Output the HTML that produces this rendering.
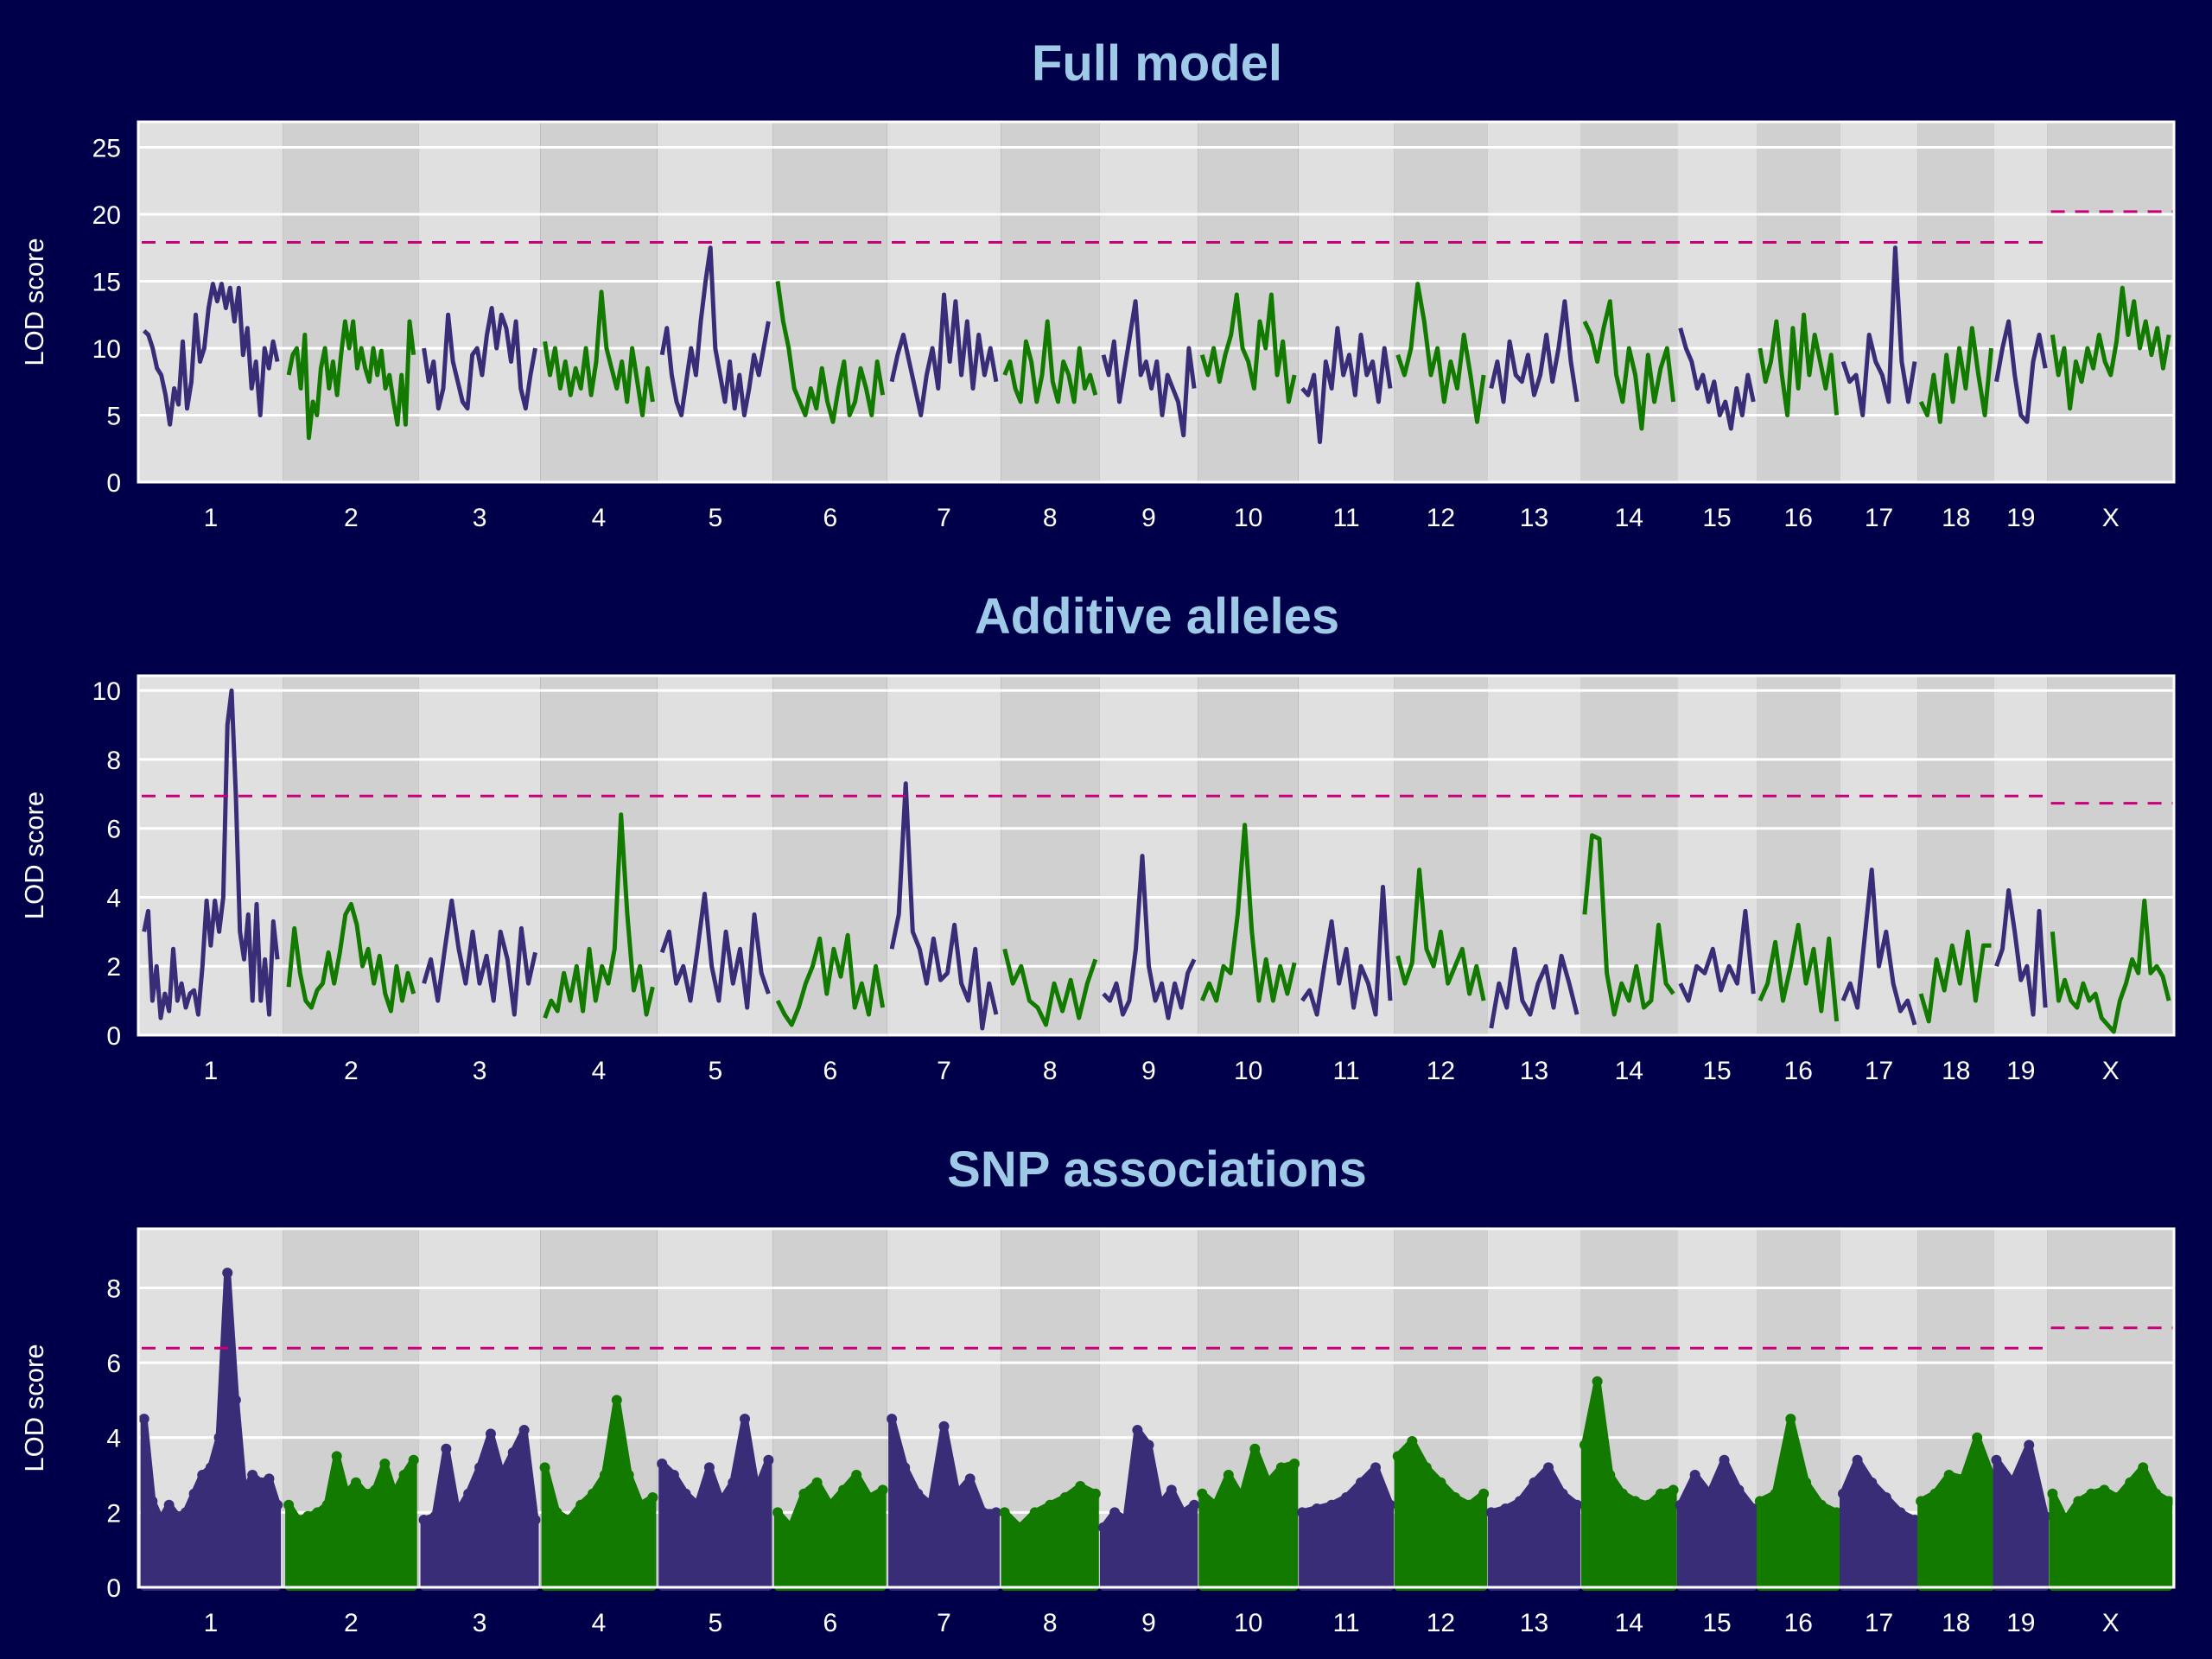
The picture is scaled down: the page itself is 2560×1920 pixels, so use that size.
<!DOCTYPE html>
<html><head><meta charset="utf-8">
<style>
html,body{margin:0;padding:0;background:#00004a;}
svg{display:block;}
text{font-family:"Liberation Sans",Arial,sans-serif;}
</style></head>
<body>
<svg id="chart" width="2560" height="1920" viewBox="0 0 2560 1920" xmlns="http://www.w3.org/2000/svg">
<rect x="0" y="0" width="2560" height="1920" fill="#00004a"/>
</svg>
<script>
const chrNames = ["1","2","3","4","5","6","7","8","9","10","11","12","13","14","15","16","17","18","19","X"];
const chrLen = [188,176,157,152,150,148,147,128,128,130,124,121,121,125,103,108,101,99,69,164];

const fullLod = [
 [11.3,11,10,8.5,8,6.5,4.3,7,5.8,10.5,5.5,7.5,12.5,9,10,13,14.8,13.5,14.8,13,14.5,12,14.5,9.5,11.5,7,9,5,10,8.5,10.5,9],
 [8,9.5,10,7,11,3.3,6,5,8.5,10,7,9,6.5,9.5,12,10,12,8.5,10,8.5,7.5,10,8,9.8,7,8,6,4.3,8,4.3,12,9.5],
 [10,7.5,9,5.5,7,12.5,9,7.5,6,5.5,9.5,10,8,11,13,10,12.5,11.5,9,12,7,5.5,8,10],
 [10.5,8,10,7,9,6.5,8.5,7,10,6.5,9,14.2,10,8.5,7,9,6,10,7.5,5,8.5,6],
 [9.5,11.5,8,6,5,7.5,10,8,12,15,17.5,10,8,6,9,5.5,8,5,7,9.5,8,10,12],
 [15,12,10,7,6,5,7,5.5,8.5,6,4.5,7,9,5,6,8.5,7,5,9,6.5],
 [7.5,9.5,11,9,7,5,8,10,7,14,9,13.5,8,12,7,11,8,10,7.5],
 [8,9,7,6,10.5,9,6,8,12,7.5,6,9,8,6,10,7,8,6.5],
 [9.5,8,10.5,6,8.5,11,13.5,8,9,7,9,5,8,7,6,3.5,10,7],
 [9.5,8,10,7.5,9.5,11,14,10,9,7,12,10,14,8,10.5,6,8],
 [7,6.5,8,3,9,7,11.5,8,9.5,6.5,11,8,9,6,10,7],
 [9.5,8,10,14.8,12,8,10,6,9,7,11,8,4.5,8],
 [7,9,6,10.5,8,7.5,9.5,6.5,8,11,7.5,10,13.5,9,6],
 [12,11,9,11.5,13.5,8,6,10,8,4,9.5,6,8.5,10,6],
 [11.5,10,9,7,8,6,7.5,5,6,4,7,5,8,6],
 [10,7.5,9,12,8,5,11.5,7,12.5,8,11,9,7,9.5,5],
 [9,7.5,8,5,11,9,8,6,17.5,9,6,9],
 [6,5,8,4.5,9.5,6,10,7,11.5,8,5,10],
 [7.5,10,12,8,5,4.5,9,11,8.5],
 [11,8,10,5.5,9,7.5,10,8.5,11,9,8,10.5,14.5,11,13.5,10,12,9.5,11.5,8.5,11]
];
const addLod = [
 [3,3.6,1,2,0.5,1.2,0.7,2.5,1,1.5,0.8,1.2,1.3,0.6,2,3.9,2.6,3.9,3,4,9,10,7,3,2.2,3.5,1,3.8,1,2.2,0.6,3.3,2.2],
 [1.4,3.1,1.8,1,0.8,1.3,1.5,2.4,1.5,2.4,3.5,3.8,3.2,2,2.5,1.5,2.3,1.2,0.7,2,1,1.8,1.2],
 [1.5,2.2,1,2.5,3.9,2.5,1.5,3,1.5,2.3,1,3,2.2,0.6,3.1,1.5,2.4],
 [0.5,1,0.7,1.8,1,2,0.7,2.5,1,2,1.5,2.5,6.4,3.5,1.3,2,0.6,1.4],
 [2.4,3,1.5,2,1,2.5,4.1,2,1,3,1.5,2.5,0.8,3.5,1.8,1.2],
 [1,0.6,0.3,0.8,1.5,2,2.8,1.2,2.5,1.7,2.9,0.8,1.5,0.6,2,0.8],
 [2.5,3.5,7.3,3,2.5,1.5,2.8,1.6,1.8,3.2,1.5,1,2.5,0.2,1.5,0.6],
 [2.5,1.5,2,1,0.8,0.3,1.5,0.7,1.6,0.5,1.5,2.2],
 [1.2,1,1.5,0.6,1,2.5,5.2,2,1,1.5,0.5,1.5,0.8,1.8,2.2],
 [1,1.5,1,2,1.8,3.5,6.1,3,1,2.2,1,2,1.2,2.1],
 [1,1.3,0.6,2,3.3,1.5,2.5,0.8,2,1.5,0.6,4.3,1],
 [2.3,1.5,2.1,4.8,2.5,2,3,1.5,2,2.5,1.2,2,1],
 [0.2,1.5,0.8,2.5,1,0.6,1.5,2,0.8,2.3,1.5,0.6],
 [3.5,5.8,5.7,1.8,0.6,1.5,1,2,0.8,1,3.2,1.5,1.2],
 [1.5,1,2,1.8,2.5,1.3,2,1.5,3.6,1.2],
 [1,1.5,2.7,1,2,3.2,1.5,2.5,0.7,2.8,0.4],
 [1,1.5,0.8,2.8,4.8,2,3,1.5,0.7,1,0.3],
 [1.2,0.4,2.2,1.3,2.6,1.5,3,1,2.6,2.6],
 [2,2.5,4.2,3,1.6,2,0.6,3.6,0.8],
 [3,1,1.6,1,0.8,1.5,1,1.2,0.5,0.3,0.1,1,1.5,2.2,1.8,3.9,1.8,2,1.7,1]
];
const snpMax = [
 [4.5,2.3,1.8,2.2,1.9,2,2.5,3,3.2,4,8.4,5,2.5,3,2.8,2.9,2.2],
 [2.2,1.8,1.9,2,2.2,3.5,2.5,2.8,2.5,2.6,3.3,2.5,3,3.4],
 [1.8,1.9,3.7,2,2.5,3.2,4.1,3,3.6,4.2,1.8],
 [3.2,2,1.8,2.2,2.5,3,5,3,2.2,2.4],
 [3.3,3,2.5,2.2,3.2,2.3,2.8,4.5,2.6,3.4],
 [2,1.6,2.5,2.8,2.2,2.6,3,2.4,2.6],
 [4.5,3.2,2.5,2.2,4.3,2.5,2.9,2,2],
 [2,1.6,2,2.2,2.4,2.7,2.5],
 [1.6,2,1.8,4.2,3.8,2.2,2.6,2,2.2],
 [2.5,2.2,3,2.4,3.7,2.8,3.2,3.3],
 [2,2.1,2.2,2.4,2.8,3.2,2.2],
 [3.5,3.9,3.2,2.8,2.4,2.2,2.5],
 [2,2.1,2.3,2.8,3.2,2.5,2.2],
 [3.8,5.5,3,2.5,2.3,2.2,2.5,2.6],
 [2.2,3,2.5,3.4,2.6,2.1],
 [2.3,2.5,4.5,2.8,2.2,2],
 [2.5,3.4,2.8,2.4,2,1.8],
 [2.3,2.5,3,2.9,4,3],
 [3.4,2.8,3.8,1.9],
 [2.5,1.8,2.3,2.5,2.6,2.4,2.8,3.2,2.5,2.3]
];
const panelTitles = ["Full model","Additive alleles","SNP associations"];
const panelYMax = [26.9, 10.43, 9.58];
const panelTicks = [[0,5,10,15,20,25],[0,2,4,6,8,10],[0,2,4,6,8]];
const autoThresh = [17.9, 6.94, 6.39];
const xThresh = [20.2, 6.73, 6.93];

const NS = "http://www.w3.org/2000/svg";
const svg = document.getElementById("chart");
const L = 160, R = 2516;
const panelTop = [141, 782, 1422];
const panelBot = [558, 1198, 1837];
const PURPLE = "#3a2d78", GREEN = "#137a00";
function mk(tag, attrs, parent){
  const e = document.createElementNS(NS, tag);
  for (const k in attrs) e.setAttribute(k, attrs[k]);
  (parent||svg).appendChild(e);
  return e;
}
const totalLen = chrLen.reduce((a,b)=>a+b,0);
const chrStart = [];
{ let c=0; for (const l of chrLen){ chrStart.push(c); c+=l; } }
function xScale(pos){ return L + (pos/totalLen)*(R-L); }
function chrPos(ci, frac){ return chrStart[ci] + chrLen[ci]*(0.04 + 0.92*frac); }

for (let p=0;p<3;p++){
  const top = panelTop[p], bot = panelBot[p], ymax = panelYMax[p];
  const yS = v => bot - (v/ymax)*(bot-top);
  const g = mk("g", {});
  
  
  const t = mk("text", {x:1339, y:[73,713,1353][p]+20, "text-anchor":"middle", "font-size":58, "font-weight":"bold", fill:"#9ecae8"}, g);
  t.textContent = panelTitles[p];
  
  
  for (let c=0;c<chrLen.length;c++){
    const r = mk("rect", {x:xScale(chrStart[c]), y:top, width:xScale(chrStart[c]+chrLen[c])-xScale(chrStart[c]), height:bot-top, fill: c%2===0?"#e0e0e0":"#d0d0d0"}, g);
    
    
    const lb = mk("text", {x:xScale(chrStart[c]+chrLen[c]/2), y:bot+51, "text-anchor":"middle", "font-size":30, fill:"#ffffff"}, g);
    lb.textContent = chrNames[c];
    
    
  }
  for (const tv of panelTicks[p]){
    if (tv>0){
      const gl = mk("line", {x1:L, x2:R, y1:yS(tv), y2:yS(tv), stroke:"#ffffff", "stroke-width":3}, g);
      
      
    }
    const tl = mk("text", {x:140, y:yS(tv)+11, "text-anchor":"end", "font-size":30, fill:"#ffffff"}, g);
    tl.textContent = tv;
    
    
  }
  const yt = mk("text", {x:0, y:0, transform:`translate(50 ${(top+bot)/2}) rotate(-90)`, "text-anchor":"middle", "font-size":31, fill:"#ffffff"}, g);
  yt.textContent = "LOD score";
  
  
  for (let c=0;c<chrLen.length;c++){
    const col = c%2===0 ? PURPLE : GREEN;
    if (p<2){
      const vals = p===0 ? fullLod[c] : addLod[c];
      const pts = vals.map((v,i)=> xScale(chrPos(c, i/(vals.length-1))).toFixed(1)+","+yS(v).toFixed(1)).join(" ");
      const pl = mk("polyline", {points:pts, fill:"none", stroke:col, "stroke-width":5, "stroke-linejoin":"round"}, g);
      
      
    } else {
      const vals = snpMax[c];
      const n = vals.length;
      const x0 = xScale(chrPos(c,0)), x1 = xScale(chrPos(c,1));
      let d = `M${x0.toFixed(1)},${yS(0)}`;
      vals.forEach((v,i)=>{
        const x = xScale(chrPos(c, i/(n-1)));
        d += ` L${x.toFixed(1)},${yS(v).toFixed(1)}`;
      });
      d += ` L${x1.toFixed(1)},${yS(0)} Z`;
      const area = mk("path", {d:d, fill:col, stroke:col, "stroke-width":8, "stroke-linejoin":"round"}, g);
      
      
      vals.forEach((v,i)=>{
        const x = xScale(chrPos(c, i/(n-1)));
        const dot = mk("circle", {cx:x, cy:yS(v), r:6, fill:col}, g);
        
        
      });
    }
  }
  const xs = xScale(chrStart[19]);
  const th1 = mk("line", {x1:L+4, x2:xs-4, y1:yS(autoThresh[p]), y2:yS(autoThresh[p]), stroke:"#c8007a", "stroke-width":3, "stroke-dasharray":"16,12"}, g);
  
  
  const th2 = mk("line", {x1:xs+4, x2:R, y1:yS(xThresh[p]), y2:yS(xThresh[p]), stroke:"#c8007a", "stroke-width":3, "stroke-dasharray":"16,12"}, g);
  
  
  const fr = mk("rect", {x:L, y:top, width:R-L, height:bot-top, fill:"none", stroke:"#ffffff", "stroke-width":3}, g);
  
  
}
</script>
</body></html>
